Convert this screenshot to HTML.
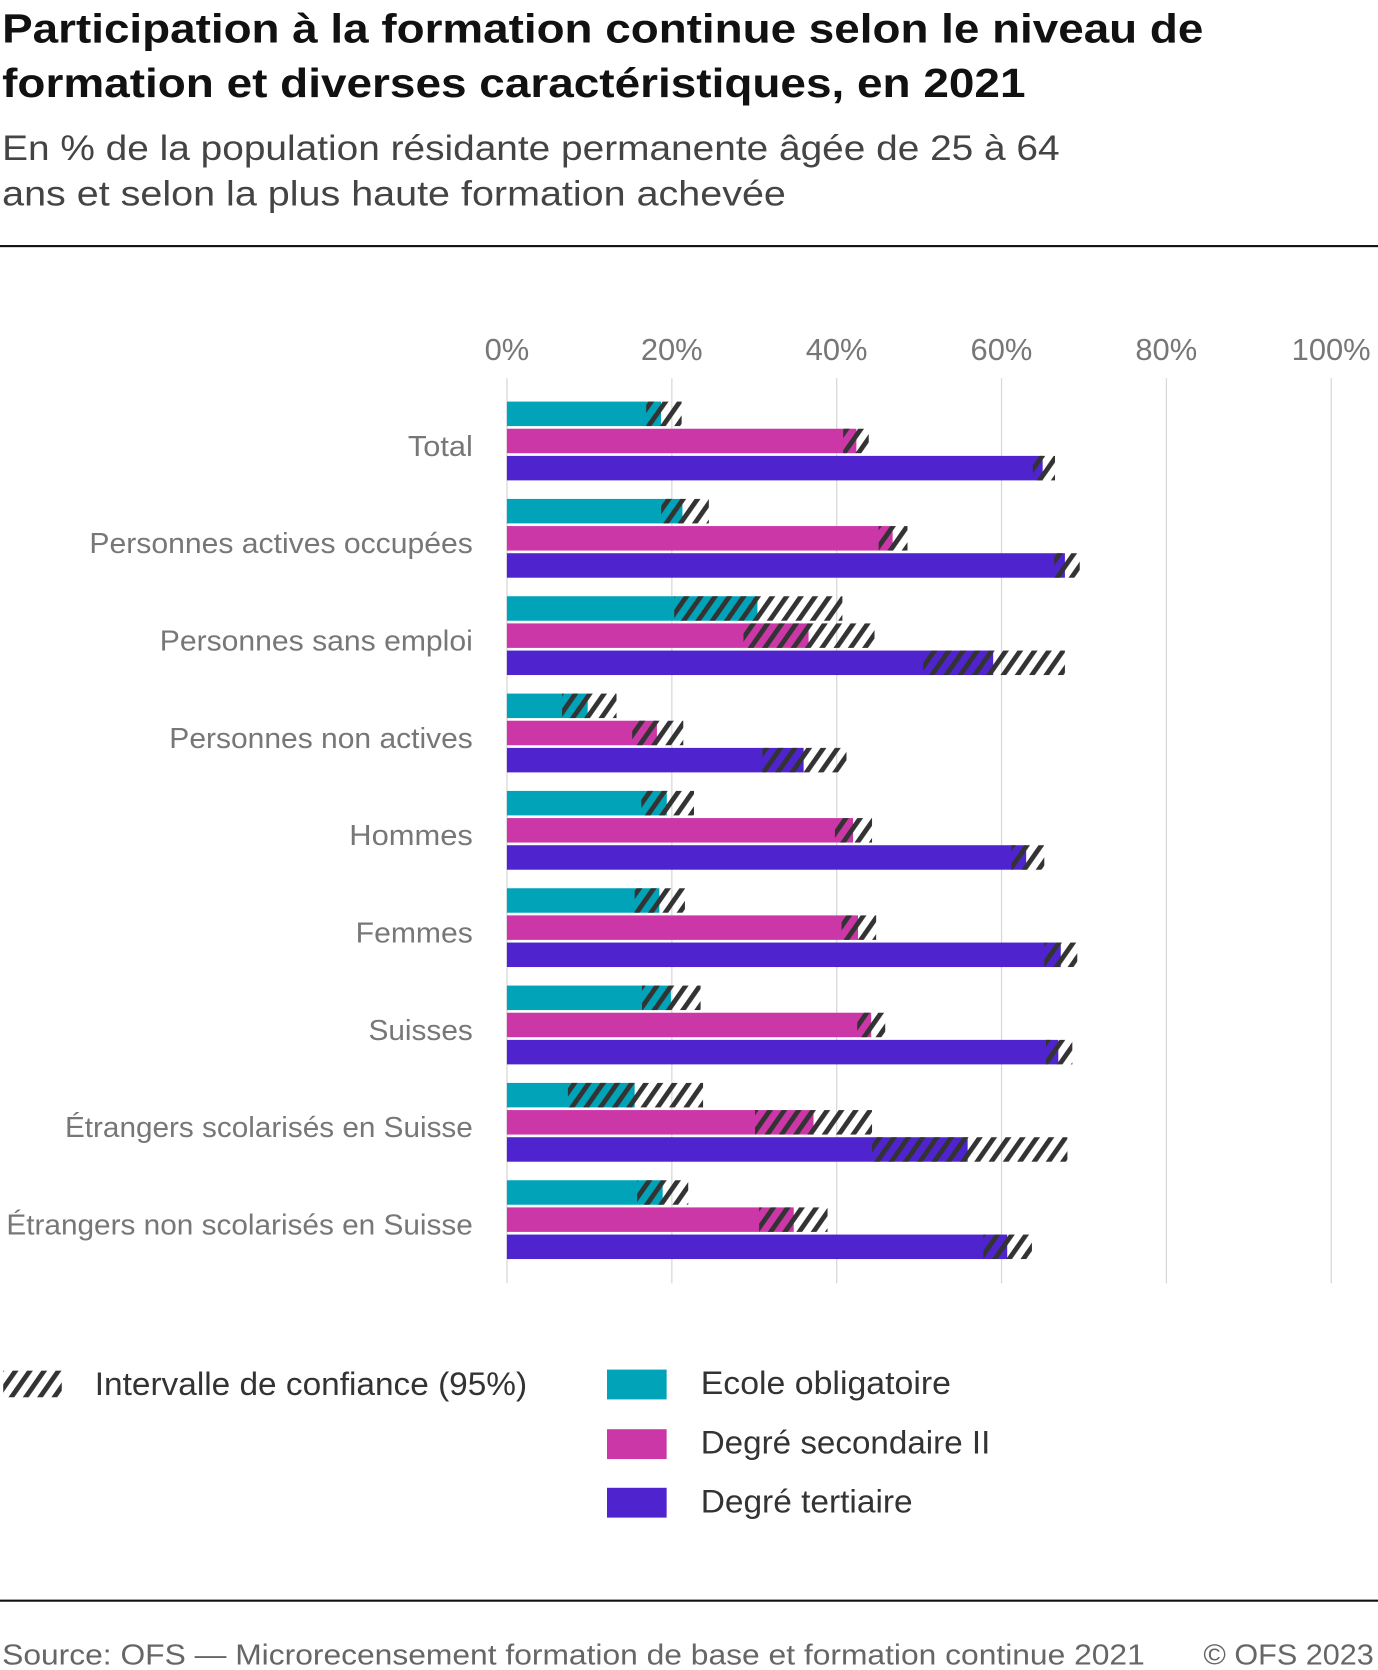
<!DOCTYPE html>
<html><head><meta charset="utf-8"><style>
html,body{margin:0;padding:0;background:#fff}
svg{display:block;font-family:"Liberation Sans",sans-serif}
</style></head><body>
<svg id="chart" width="1378" height="1670" viewBox="0 0 1294 1568" xmlns="http://www.w3.org/2000/svg">
<defs>
<pattern id="hatch" patternUnits="userSpaceOnUse" width="11" height="11" patternTransform="rotate(35)">
<rect x="0" y="0" width="4.5" height="11" fill="#333"/>
</pattern>
</defs>
<text x="2" y="40" font-size="38" font-weight="bold" fill="#111" textLength="1128" lengthAdjust="spacingAndGlyphs">Participation à la formation continue selon le niveau de</text>
<text x="2" y="91" font-size="38" font-weight="bold" fill="#111" textLength="961" lengthAdjust="spacingAndGlyphs">formation et diverses caractéristiques, en 2021</text>
<text x="2" y="150" font-size="33" fill="#444" textLength="993" lengthAdjust="spacingAndGlyphs">En % de la population résidante permanente âgée de 25 à 64</text>
<text x="2" y="193" font-size="33" fill="#444" textLength="736" lengthAdjust="spacingAndGlyphs">ans et selon la plus haute formation achevée</text>
<rect x="0" y="230" width="1294" height="2" fill="#111"/>
<g id="grid"></g>
<g id="bars"></g>
<g id="legend">
<rect x="3" y="1287" width="55" height="25" fill="url(#hatch)"/>
<text x="89" y="1310" font-size="30" fill="#333" textLength="406" lengthAdjust="spacingAndGlyphs">Intervalle de confiance (95%)</text>
<rect x="570" y="1286" width="56" height="28" fill="#00a3b8"/>
<text x="658" y="1309" font-size="30" fill="#333" textLength="235" lengthAdjust="spacingAndGlyphs">Ecole obligatoire</text>
<rect x="570" y="1342" width="56" height="28" fill="#cc37a8"/>
<text x="658" y="1365" font-size="30" fill="#333" textLength="272" lengthAdjust="spacingAndGlyphs">Degré secondaire II</text>
<rect x="570" y="1397" width="56" height="28" fill="#4f24cf"/>
<text x="658" y="1420" font-size="30" fill="#333" textLength="199" lengthAdjust="spacingAndGlyphs">Degré tertiaire</text>
</g>
<rect x="0" y="1502" width="1294" height="2" fill="#111"/>
<text x="2" y="1563" font-size="27" fill="#666" textLength="1073" lengthAdjust="spacingAndGlyphs">Source: OFS — Microrecensement formation de base et formation continue 2021</text>
<text x="1130" y="1563" font-size="27" fill="#666" textLength="160" lengthAdjust="spacingAndGlyphs">© OFS 2023</text>
</svg>
<script>
const categories = ["Total","Personnes actives occupées","Personnes sans emploi","Personnes non actives","Hommes","Femmes","Suisses","Étrangers scolarisés en Suisse","Étrangers non scolarisés en Suisse"];
const labelStarts = [383,84,150,159,328,334,346,61,6];
const seriesNames = ["Ecole obligatoire","Degré secondaire II","Degré tertiaire"];
const ecoleVal = [18.7,21.3,30.4,9.8,19.4,18.5,19.9,15.5,18.9];
const ecoleLow = [16.9,18.7,20.3,6.7,16.3,15.5,16.4,7.4,15.8];
const ecoleHigh = [21.2,24.5,40.7,13.3,22.7,21.6,23.5,23.8,22.0];
const secVal = [42.4,46.8,36.6,18.2,42.0,42.6,44.2,37.2,34.8];
const secLow = [40.8,45.1,28.7,15.2,39.8,40.6,42.5,30.1,30.6];
const secHigh = [43.9,48.6,44.6,21.4,44.3,44.8,45.9,44.3,38.9];
const terVal = [65.0,67.7,59.0,36.0,63.0,67.2,66.9,55.9,60.7];
const terLow = [63.8,66.4,50.5,31.0,61.2,65.2,65.4,44.3,57.8];
const terHigh = [66.5,69.5,67.7,41.2,65.2,69.2,68.6,68.0,63.7];
const ticks = [0,20,40,60,80,100];

const NS="http://www.w3.org/2000/svg";
const x = v => 476 + v*7.74;
const groupY = i => 377 + i*91.4;
function mk(tag, attrs){const e=document.createElementNS(NS,tag);for(const k in attrs)e.setAttribute(k,attrs[k]);return e;}
const grid=document.getElementById('grid');
ticks.forEach(t=>{
  const l=mk('rect',{x:x(t)-0.5,y:355,width:1.2,height:850,fill:'#d8d8d8'});
  
  
  grid.appendChild(l);
  const tx=mk('text',{x:x(t),y:338,'font-size':29,fill:'#777','text-anchor':'middle'});
  tx.textContent=t+'%';
  
  
  grid.appendChild(tx);
});
const bars=document.getElementById('bars');
const series=[[ecoleVal,ecoleLow,ecoleHigh,'#00a3b8','ecole'],[secVal,secLow,secHigh,'#cc37a8','secondaire'],[terVal,terLow,terHigh,'#4f24cf','tertiaire']];
categories.forEach((c,i)=>{
  const gy=groupY(i);
  const lab=mk('text',{x:labelStarts[i],y:gy+51,'font-size':27,fill:'#777',textLength:444-labelStarts[i],lengthAdjust:'spacingAndGlyphs'});
  lab.textContent=c;
  
  
  bars.appendChild(lab);
  series.forEach((s,j)=>{
    const y=gy+j*25.5;
    const b=mk('rect',{x:x(0),y:y,width:x(s[0][i])-x(0),height:23,fill:s[3]});
    
    
    bars.appendChild(b);
    const ci=mk('rect',{x:x(s[1][i]),y:y,width:x(s[2][i])-x(s[1][i]),height:23,fill:'url(#hatch)'});
    
    
    bars.appendChild(ci);
  });
});
</script>
</body></html>
